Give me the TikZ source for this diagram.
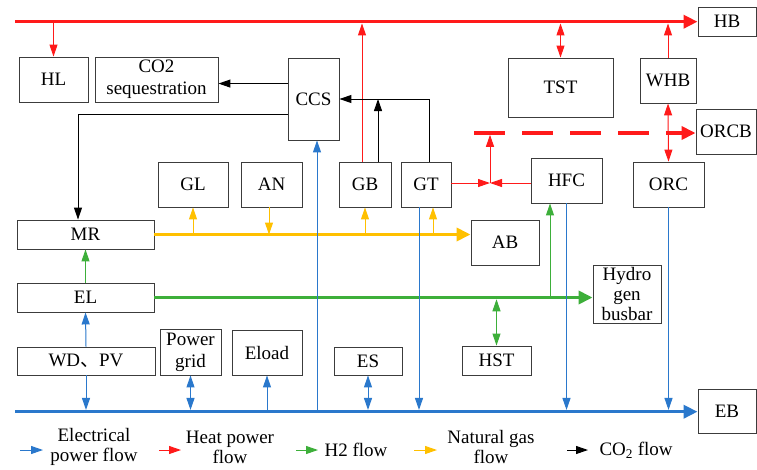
\documentclass[tikz,border=0pt]{standalone}
\usepackage{fontspec}
\setmainfont{Liberation Serif}
\newfontfamily\cjk{Noto Sans CJK SC}
\usepackage{xcolor}
\usepackage{tikz}
\usetikzlibrary{arrows.meta, calc}
\definecolor{eblue}{HTML}{2A78CC}
\definecolor{hred}{HTML}{FF1A1A}
\definecolor{hgreen}{HTML}{3DAF3A}
\definecolor{gyellow}{HTML}{FFC000}
\definecolor{boxgray}{HTML}{3C3C3C}

\begin{document}
\begin{tikzpicture}[x=1pt, y=-1pt,
  box/.style={draw=boxgray, line width=0.9pt, inner sep=0pt, align=center, font=\fontsize{19}{22}\selectfont},
  flow/.style={line width=1pt, >={Triangle[length=12pt, width=8pt]}},
  bus/.style={line width=3.5pt, >={Triangle[length=14pt, width=13pt]}},
  elec/.style={eblue}, heat/.style={hred}, hyd/.style={hgreen}, gas/.style={gyellow}, co2/.style={black},
  lab/.style={align=center, font=\fontsize{19}{20}\selectfont}]
\useasboundingbox (0,0) rectangle (757,469);
\fill[white] (0,0) rectangle (757,469);

\node[box, minimum width=69pt, minimum height=45pt] (HL) at (53.5,79.5) {HL};
\node[box, minimum width=123pt, minimum height=45pt] (CO2seq) at (156.5,79.5) {CO2\\sequestration};
\node[box, minimum width=51pt, minimum height=82pt] (CCS) at (313.5,99) {CCS};
\node[box, minimum width=105pt, minimum height=59pt] (TST) at (560.5,87.5) {TST};
\node[box, minimum width=56pt, minimum height=45pt] (WHB) at (668,80.5) {WHB};
\node[box, minimum width=58pt, minimum height=29pt] (HB) at (727,21.5) {HB};
\node[box, minimum width=60pt, minimum height=45pt] (ORCB) at (726,131.5) {ORCB};
\node[box, minimum width=70pt, minimum height=45pt] (GL) at (193,184.5) {GL};
\node[box, minimum width=61pt, minimum height=45pt] (AN) at (271.5,184.5) {AN};
\node[box, minimum width=52pt, minimum height=45pt] (GB) at (365,184.5) {GB};
\node[box, minimum width=50pt, minimum height=45pt] (GT) at (426,184.5) {GT};
\node[box, minimum width=71pt, minimum height=45pt] (HFC) at (566.5,180.5) {HFC};
\node[box, minimum width=71pt, minimum height=45pt] (ORC) at (668.5,184.5) {ORC};
\node[box, minimum width=137pt, minimum height=29pt] (MR) at (85.5,234.5) {MR};
\node[box, minimum width=68pt, minimum height=45pt] (AB) at (505,242.5) {AB};
\node[box, minimum width=137pt, minimum height=29pt] (EL) at (85.5,297.5) {EL};
\node[box, minimum width=68pt, minimum height=58pt, font=\fontsize{19}{20}\selectfont] (Hbus) at (627,294) {Hydro\\gen\\busbar};
\node[box, minimum width=138pt, minimum height=28pt] (WDPV) at (86,361) {WD{\cjk 、}PV};
\node[box, minimum width=61pt, minimum height=46pt] (Grid) at (190.5,352) {Power\\grid};
\node[box, minimum width=70pt, minimum height=45pt] (Eload) at (267,352.5) {Eload};
\node[box, minimum width=68pt, minimum height=28pt] (ES) at (368,361) {ES};
\node[box, minimum width=69pt, minimum height=29pt] (HST) at (496.5,360.5) {HST};
\node[box, minimum width=58pt, minimum height=44pt] (EB) at (727,411) {EB};

\coordinate (hbus) at (15,21.7);
\coordinate (ebus) at (15,411.7);
\coordinate (jn) at (490,183);
\coordinate (dsL) at (474,133);
\coordinate (dsR) at (668,133);
\coordinate (gbr) at ($(GB.north)+(-3,0)$);
\coordinate (gbk) at ($(GB.north)+(13,0)$);
\coordinate (gtk) at ($(GT.north)+(3,0)$);
\coordinate (gty) at ($(GT.south)+(7,0)$);
\coordinate (gtb) at ($(GT.south)+(-7,0)$);
\coordinate (an) at ($(AN.south)+(-2.5,0)$);
\coordinate (hfg) at ($(HFC.south)+(-16.5,0)$);
\coordinate (ccb) at ($(CCS.south)+(3.5,0)$);
\coordinate (c1) at ($(CCS.north west)+(0,26)$);
\coordinate (c2) at ($(CCS.north west)+(0,57)$);
\coordinate (mrk) at ($(MR.north)+(-7.5,0)$);

\draw[heat, bus, ->] (hbus) -- (hbus -| HB.west);
\draw[elec, bus, ->] (ebus) -- (ebus -| EB.west);
\draw[gas, bus, ->] (MR.east) -- (MR.east -| AB.west);
\draw[hyd, bus, ->] (EL.east) -- (EL.east -| Hbus.west);
\draw[heat, line width=3.5pt, dash pattern=on 31pt off 17pt] (dsL) -- (dsR);
\draw[heat, bus, ->] (dsR) -- (dsR -| ORCB.west);

\draw[heat, flow, ->] (HL.north |- hbus) -- (HL.north);
\draw[heat, flow, ->, shorten >=1.75pt] (gbr) -- (gbr |- hbus);
\draw[heat, flow, <->, shorten >=1.75pt] (TST.north) -- (TST.north |- hbus);
\draw[heat, flow, ->, shorten >=1.75pt] (WHB.north) -- (WHB.north |- hbus);
\draw[heat, flow, <->] (WHB.south) -- (ORC.north);
\draw[heat, flow, ->] (GT.east |- jn) -- (jn);
\draw[heat, flow, ->] (HFC.west |- jn) -- (jn);
\draw[heat, flow, ->, shorten >=1.75pt] (jn) -- (jn |- dsL);

\draw[co2, flow, ->] (c1) -- (c1 -| CO2seq.east);
\draw[co2, flow, ->] (c2) -| (mrk);
\draw[co2, flow, ->] (gtk) |- (CCS.east);
\draw[co2, flow, ->] (gbk) -- (gbk |- CCS.east);

\draw[gas, flow, ->] (GL.south |- MR.east) -- (GL.south);
\draw[gas, flow, ->] (an) -- (an |- MR.east);
\draw[gas, flow, ->] (GB.south |- MR.east) -- (GB.south);
\draw[gas, flow, ->] (gty |- MR.east) -- (gty);

\draw[hyd, flow, ->] (EL.north) -- (MR.south);
\draw[hyd, flow, ->] (hfg |- EL.east) -- (hfg);
\draw[hyd, flow, <->, shorten <=1.75pt] (HST.north |- EL.east) -- (HST.north);

\draw[elec, flow, ->] (WDPV.north) -- (EL.south);
\draw[elec, flow, ->, shorten >=1.75pt] (WDPV.south) -- (WDPV.south |- ebus);
\draw[elec, flow, <->, shorten >=1.75pt] (Grid.south) -- (Grid.south |- ebus);
\draw[elec, flow, ->] (Eload.south |- ebus) -- (Eload.south);
\draw[elec, flow, <->, shorten >=1.75pt] (ES.south) -- (ES.south |- ebus);
\draw[elec, flow, ->] (ccb |- ebus) -- (ccb);
\draw[elec, flow, ->, shorten >=1.75pt] (gtb) -- (gtb |- ebus);
\draw[elec, flow, ->, shorten >=1.75pt] (HFC.south) -- (HFC.south |- ebus);
\draw[elec, flow, ->, shorten >=1.75pt] (ORC.south) -- (ORC.south |- ebus);

\node[lab] (lgE) at (94,447) {Electrical\\power flow};
\node[lab] (lgH) at (230,447) {Heat power\\flow};
\node[lab, anchor=west] (lgG) at (321,450) {H2 flow};
\node[lab] (lgN) at (491,447) {Natural gas\\flow};
\node[lab, anchor=west] (lgC) at (596,450) {CO\textsubscript{2} flow};
\coordinate (le1) at (20,450); \coordinate (le2) at (43,450);
\coordinate (lh1) at (159,450); \coordinate (lh2) at (181,450);
\coordinate (lg1) at (296,450); \coordinate (lg2) at (318,450);
\coordinate (ln1) at (414,450); \coordinate (ln2) at (437,450);
\coordinate (lc1) at (567,450); \coordinate (lc2) at (588,450);
\draw[elec, flow, ->] (le1) -- (le2);
\draw[heat, flow, ->] (lh1) -- (lh2);
\draw[hyd, flow, ->] (lg1) -- (lg2);
\draw[gas, flow, ->] (ln1) -- (ln2);
\draw[co2, flow, ->] (lc1) -- (lc2);
\end{tikzpicture}
\end{document}
